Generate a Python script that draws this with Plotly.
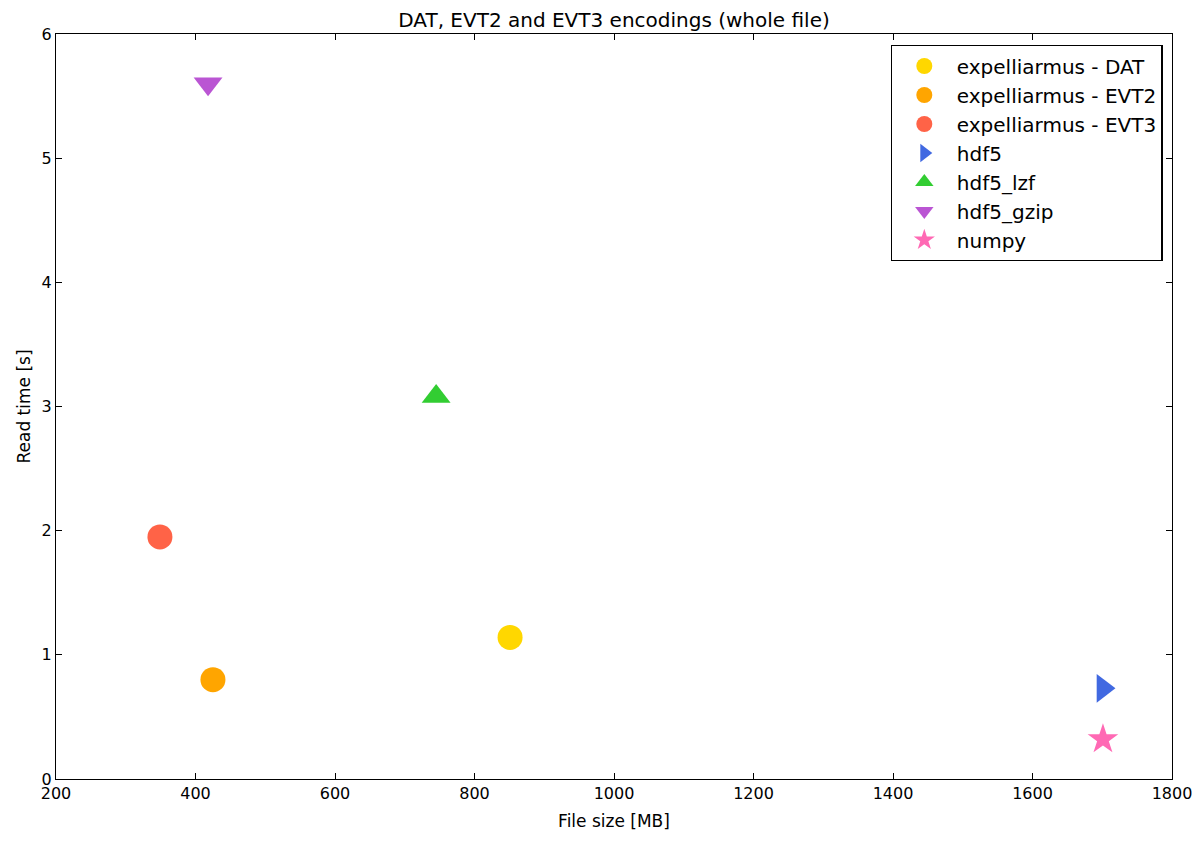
import plotly.graph_objects as go

names = ["expelliarmus - DAT", "expelliarmus - EVT2", "expelliarmus - EVT3",
         "hdf5", "hdf5_lzf", "hdf5_gzip", "numpy"]
file_size = [851, 425, 349, 1701, 745, 418, 1701]
read_time = [1.14, 0.80, 1.95, 0.73, 3.08, 5.60, 0.32]
colors = ["#FFD700", "#FFA500", "#FF6347", "#4169E1", "#32CD32", "#BA55D3", "#FF69B4"]
symbols = ["circle", "circle", "circle", "triangle-right", "triangle-up", "triangle-down", "star"]
sizes = [25, 25, 25, 25, 25, 25, 23]

fig = go.Figure()
for n, x, y, c, s, sz in zip(names, file_size, read_time, colors, symbols, sizes):
    fig.add_trace(go.Scatter(x=[x], y=[y], mode="markers", name=n,
                             marker=dict(color=c, symbol=s, size=sz, line=dict(width=0))))

axis_common = dict(showgrid=False, zeroline=False, ticks="inside", ticklen=6,
                   tickcolor="black", showline=True, linecolor="black", linewidth=1.3,
                   mirror="allticks", tickfont=dict(size=16, color="black"))

fig.update_layout(
    width=1204, height=842,
    paper_bgcolor="white", plot_bgcolor="white",
    font=dict(family="DejaVu Sans", color="black"),
    margin=dict(l=48, r=40, t=26, b=71),
    title=dict(text="DAT, EVT2 and EVT3 encodings (whole file)", x=(614 - 8) / 1204, xanchor="center",
               y=1 - 12 / 842, yanchor="middle", font=dict(size=20)),
    xaxis=dict(range=[200, 1800], dtick=200, title=dict(text="File size [MB]", font=dict(size=17), standoff=12),
               **axis_common),
    yaxis=dict(range=[0, 6], dtick=1, title=dict(text="Read time [s]", font=dict(size=17), standoff=6),
               **axis_common),
    showlegend=True,
    legend=dict(x=0.9915, y=0.985, xanchor="right", yanchor="top", bgcolor="white",
                bordercolor="black", borderwidth=1.3, font=dict(size=20),
                itemsizing="trace", itemwidth=55, tracegroupgap=0),
)

fig.write_html("out.html")
